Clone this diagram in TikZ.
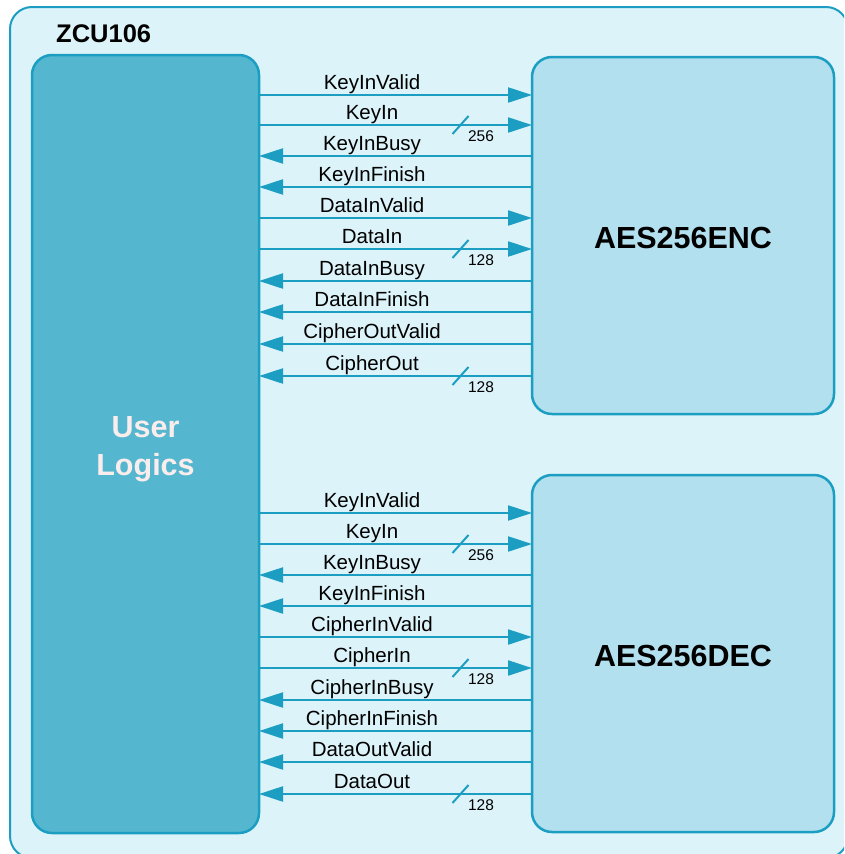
\documentclass[tikz,border=0pt]{standalone}
\usepackage{fontspec}
\setmainfont{Liberation Sans}
\usetikzlibrary{arrows.meta}

\definecolor{boardfill}{HTML}{DCF3F9}
\definecolor{wireblue}{HTML}{1C9EC3}
\definecolor{logicfill}{HTML}{54B7CF}
\definecolor{corefill}{HTML}{B2E0EE}
\definecolor{logictext}{HTML}{FCEDED}

\tikzset{%
  board/.style={
    draw=wireblue,
    fill=boardfill,
    line width=2pt,
    rounded corners=22pt,
    minimum width=838pt,
    minimum height=851pt,
    inner sep=0pt,
    outer sep=0pt
  },
  block/.style={
    draw=wireblue,
    line width=2.5pt,
    rounded corners=20pt,
    inner sep=0pt,
    outer sep=0pt
  },
  block text/.style={
    align=center,
    inner sep=0pt,
    font=\bfseries\fontsize{30.5}{38}\selectfont
  },
  user block/.style={
    block,
    fill=logicfill,
    minimum width=227pt,
    minimum height=778pt
  },
  core block/.style={
    block,
    fill=corefill,
    minimum width=302pt,
    minimum height=357pt
  },
  sig/.style={draw=wireblue, line width=2.2pt},
  sig r/.style={sig, -{Triangle[length=24pt,width=15pt]}},
  sig l/.style={sig, {Triangle[length=24pt,width=15pt]}-},
  sig label/.style={anchor=base, inner sep=0pt, font=\fontsize{20.5}{24}\selectfont},
  bus mark/.style={draw=wireblue, line width=2pt},
  bus label/.style={anchor=base, inner sep=0pt, font=\fontsize{15.5}{18}\selectfont},
}

\begin{document}
\begin{tikzpicture}[x=1pt, y=-1pt]
\useasboundingbox (0,0) rectangle (844,854);
\clip (0,0) rectangle (844,854);

\node [board] (zcu) at (429,432.5) {};
\node [anchor=base west, inner sep=0pt, font=\bfseries\fontsize{25.5}{30}\selectfont] (zcu-title) at (56,42) {ZCU106};

\node [user block] (user) at (145.5,444) {};
\node [core block] (enc) at (683,235.5) {};
\node [core block] (dec) at (683,653.5) {};

\node [block text, text=logictext] (user-text) at (145.5,449) {User\\Logics};
\node [block text] (enc-text) at (683,238) {AES256ENC};
\node [block text] (dec-text) at (683,656) {AES256DEC};

% encoder signals
\foreach \s/\y/\d [count=\i] in {KeyInValid/95/r, KeyIn/125/r, KeyInBusy/156/l, KeyInFinish/187/l,
    DataInValid/218/r, DataIn/249/r, DataInBusy/281/l, DataInFinish/312/l,
    CipherOutValid/344/l, CipherOut/376/l}
{
  \draw [sig \d] (user.east |- 0,\y) -- (enc.west |- 0,\y);
  \node [sig label] (enc-sig-\i) at (372,\y-5.5) {\s};
}

% decoder signals
\foreach \s/\y/\d [count=\i] in {KeyInValid/513/r, KeyIn/544/r, KeyInBusy/575/l, KeyInFinish/606/l,
    CipherInValid/637/r, CipherIn/668/r, CipherInBusy/700/l, CipherInFinish/731/l,
    DataOutValid/762/l, DataOut/794/l}
{
  \draw [sig \d] (user.east |- 0,\y) -- (dec.west |- 0,\y);
  \node [sig label] (dec-sig-\i) at (372,\y-5.5) {\s};
}

% bus widths
\foreach \y/\w [count=\i] in {125/256, 249/128, 376/128, 544/256, 668/128, 794/128}
{
  \draw [bus mark] (452.5,\y+9) -- ++(16,-18);
  \node [bus label] (bus-\i) at (481,\y+16.5) {\w};
}

\end{tikzpicture}
\end{document}
